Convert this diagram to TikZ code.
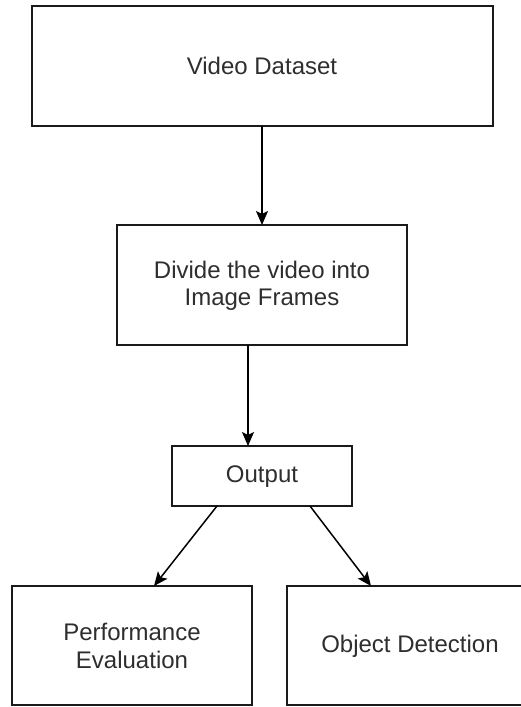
\documentclass[tikz,border=0pt]{standalone}
\usepackage{fontspec}
\setmainfont{Liberation Sans}
\usetikzlibrary{arrows.meta}
\definecolor{txt}{HTML}{2E2E2E}
\definecolor{edge}{HTML}{1A1A1A}
\tikzset{
  box/.style={draw=edge, line width=1.8pt, fill=white, inner sep=0pt},
  lbl/.style={text=txt, font=\fontsize{24}{27.5}\selectfont, align=center},
  flow/.style={draw=black, line width=1.5pt, -{Stealth[length=14pt, width=12pt, inset=3pt]}}
}
\begin{document}
\begin{tikzpicture}[x=1pt, y=-1pt]
  \useasboundingbox (0,0) rectangle (521,707);
  \clip (0,0) rectangle (521,707);
  % boxes (pixel-style coordinates, y downwards)
  \draw[box] (32,6) rectangle (493,126);
  \draw[box] (117,225) rectangle (407,345);
  \draw[box] (172,446) rectangle (352,506);
  \draw[box] (12,586) rectangle (252,705);
  \draw[box] (287,586) rectangle (535,705);
  % labels
  \node[lbl] (vd) at (262,66) {Video Dataset};
  \node[lbl] (dv) at (262,286) {Divide the video into\\Image Frames};
  \node[lbl] (out) at (262,477) {Output};
  \node[lbl] (pe) at (132,646) {Performance\\Evaluation};
  \node[lbl] (od) at (410,646) {Object Detection};
  % anchor points on box edges
  \coordinate (vdB) at (262,126);
  \coordinate (dvT) at (262,225);
  \coordinate (dvB) at (248,345);
  \coordinate (outT) at (248,446);
  \coordinate (outBL) at (217,506);
  \coordinate (outBR) at (310,506);
  \coordinate (peT) at (154,586);
  \coordinate (odT) at (371,586);
  % connectors
  \draw[flow] (vdB) -- (dvT);
  \draw[flow] (dvB) -- (outT);
  \draw[flow] (outBL) -- (peT);
  \draw[flow] (outBR) -- (odT);
\end{tikzpicture}
\end{document}
